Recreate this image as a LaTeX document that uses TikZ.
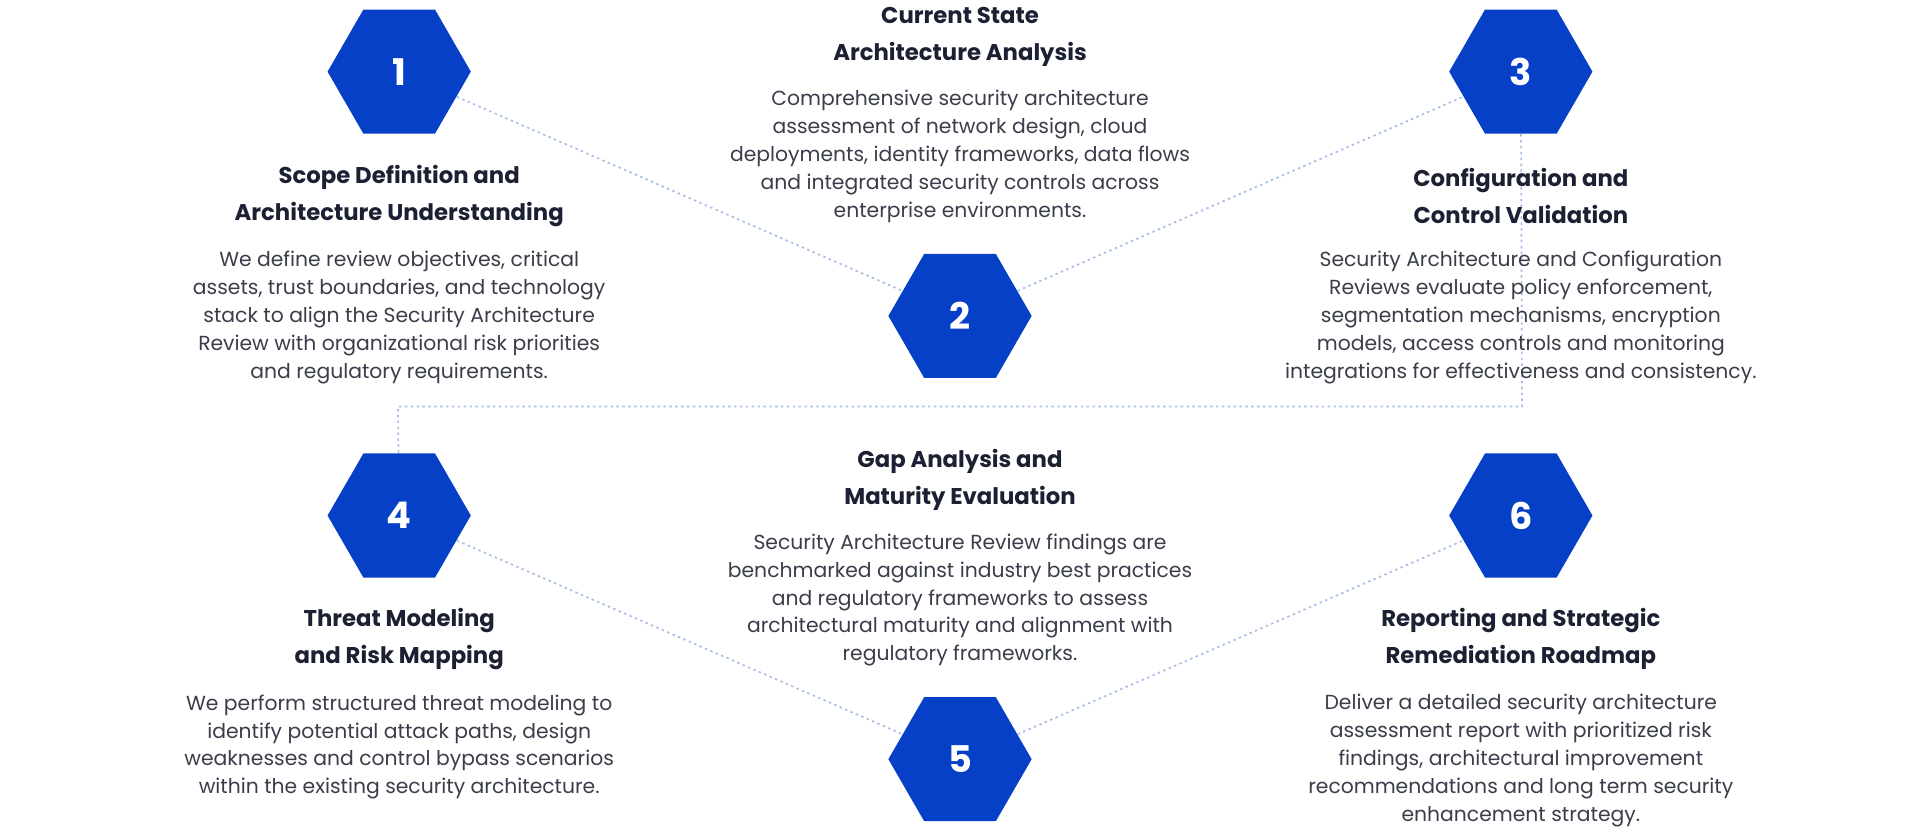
\documentclass[tikz,border=0pt]{standalone}
\usepackage{fontspec}
\setmainfont{Poppins}
\usetikzlibrary{shapes.geometric,positioning}
\definecolor{hexblue}{HTML}{0540C6}
\definecolor{linkblue}{HTML}{A9BEE8}
\definecolor{titlecol}{HTML}{1C2033}
\definecolor{bodycol}{HTML}{3A3D4A}
\tikzset{
  phase/.style={regular polygon, regular polygon sides=6, minimum size=58.5pt, inner sep=0pt,
    fill=hexblue, text=white, font=\fontsize{15}{15}\selectfont\bfseries},
  title/.style={align=center, text=titlecol, font=\fontsize{9.3}{15}\selectfont\bfseries},
  body/.style={align=center, text=bodycol, font=\fontsize{8.3}{11.4}\selectfont},
  link/.style={linkblue, line width=0.7pt, dash pattern=on 1pt off 1.4pt},
}
\begin{document}
\begin{tikzpicture}[x=0.5pt,y=-0.5pt]
\useasboundingbox (0,0) rectangle (1568,680);

\node[phase] (h1) at (326,58.5) {1};
\node[phase] (h2) at (784,258) {2};
\node[phase] (h3) at (1242,58.5) {3};
\node[phase] (h4) at (326,421) {4};
\node[phase] (h5) at (784,620) {5};
\node[phase] (h6) at (1242,421) {6};

\coordinate (c3) at (1243,332);
\coordinate (c4) at (325,332);

\draw[link] (h1) -- (h2);
\draw[link] (h2) -- (h3);
\draw[link] (h3) -- (c3) -- (c4) -- (h4);
\draw[link] (h4) -- (h5);
\draw[link] (h5) -- (h6);

\node[title] (t1) at (326,160) {Scope Definition and\\Architecture Understanding};
\node[body] (b1) at (326,259) {We define review objectives, critical\\assets, trust boundaries, and technology\\stack to align the Security Architecture\\Review with organizational risk priorities\\and regulatory requirements.};

\node[title] (t2) at (784,30) {Current State\\Architecture Analysis};
\node[body] (b2) at (784,128) {Comprehensive security architecture\\assessment of network design, cloud\\deployments, identity frameworks, data flows\\and integrated security controls across\\enterprise environments.};

\node[title] (t3) at (1242,160) {Configuration and\\Control Validation};
\node[body] (b3) at (1242,259) {Security Architecture and Configuration\\Reviews evaluate policy enforcement,\\segmentation mechanisms, encryption\\models, access controls and monitoring\\integrations for effectiveness and consistency.};

\node[title] (t4) at (326,522) {Threat Modeling\\and Risk Mapping};
\node[body] (b4) at (326,610) {We perform structured threat modeling to\\identify potential attack paths, design\\weaknesses and control bypass scenarios\\within the existing security architecture.};

\node[title] (t5) at (784,392) {Gap Analysis and\\Maturity Evaluation};
\node[body] (b5) at (784,490) {Security Architecture Review findings are\\benchmarked against industry best practices\\and regulatory frameworks to assess\\architectural maturity and alignment with\\regulatory frameworks.};

\node[title] (t6) at (1242,522) {Reporting and Strategic\\Remediation Roadmap};
\node[body] (b6) at (1242,621) {Deliver a detailed security architecture\\assessment report with prioritized risk\\findings, architectural improvement\\recommendations and long term security\\enhancement strategy.};
\end{tikzpicture}
\end{document}
